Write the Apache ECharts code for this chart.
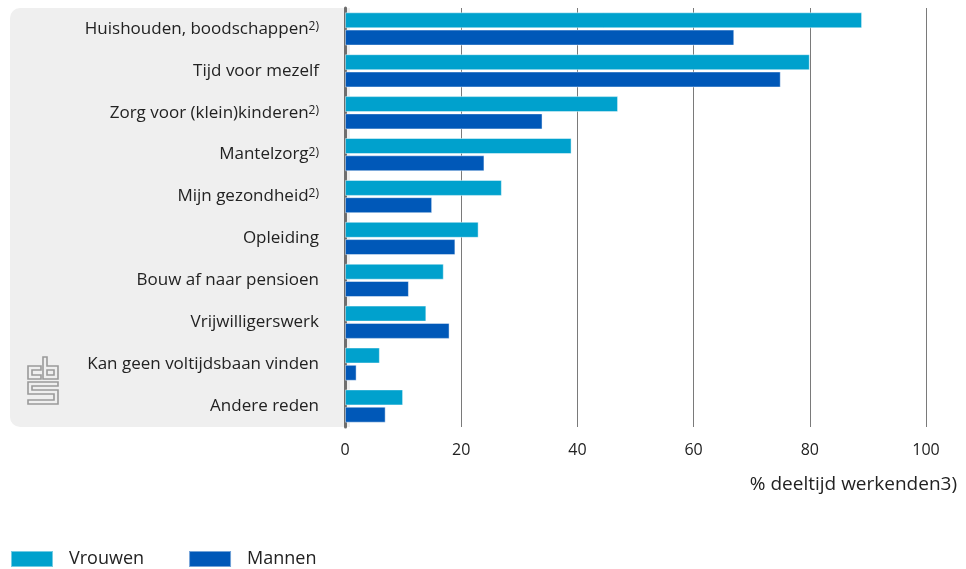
<!DOCTYPE html>
<html>
<head>
<meta charset="utf-8">
<script src="https://cdn.jsdelivr.net/npm/echarts@6/dist/echarts.min.js"></script>
<style>html,body{margin:0;padding:0;background:#fff}#c{width:966px;height:569px}</style>
</head>
<body>
<div id="c"></div>
<script>
const categories = ['Huishouden, boodschappen2)', 'Tijd voor mezelf', 'Zorg voor (klein)kinderen2)', 'Mantelzorg2)', 'Mijn gezondheid2)', 'Opleiding', 'Bouw af naar pensioen', 'Vrijwilligerswerk', 'Kan geen voltijdsbaan vinden', 'Andere reden'];
const vrouwen = [89, 80, 47, 39, 27, 23, 17, 14, 6, 10];
const mannen = [67, 75, 34, 24, 15, 19, 11, 18, 2, 7];
const xTicks = [0, 20, 40, 60, 80, 100];
const axisTitle = '% deeltijd werkenden3)';
const seriesNames = ['Vrouwen', 'Mannen'];

const FONT = 'Open Sans';
const chart = echarts.init(document.getElementById('c'), null, {renderer: 'canvas'});
const logoStyle = {fill: 'none', stroke: '#9a9a9a', lineWidth: 1.6};
chart.setOption({
  animation: false,
  textStyle: {fontFamily: FONT},
  graphic: [
    {type: 'rect', z: -10, shape: {x: 10, y: 8, width: 340, height: 419, r: [10, 0, 0, 10]}, style: {fill: '#efefef'}},
    {type: 'polygon', shape: {points: [[28,366],[41,366],[41,370],[32,370],[32,375],[41,375],[41,379],[28,379]]}, style: logoStyle},
    {type: 'polygon', shape: {points: [[43,357],[47,357],[47,366],[58,366],[58,379],[43,379]]}, style: logoStyle},
    {type: 'rect', shape: {x: 47, y: 370, width: 7, height: 5}, style: logoStyle},
    {type: 'polygon', shape: {points: [[28,382],[58,382],[58,386],[32,386],[32,390],[58,390],[58,404],[28,404],[28,400],[54,400],[54,394],[28,394]]}, style: logoStyle},
    {type: 'text', right: 9, top: 475, style: {text: axisTitle, fontFamily: FONT, fontSize: 19, fill: '#222', textAlign: 'right'}}
  ],
  legend: {
    left: 10, top: 550, padding: 0, itemWidth: 42, itemHeight: 16, itemGap: 44,
    icon: 'rect',
    textStyle: {fontSize: 18, color: '#222', padding: [0, 0, 0, 11]},
    data: seriesNames
  },
  grid: {left: 345, right: 40, top: 8, bottom: 142, containLabel: false},
  xAxis: {
    type: 'value', min: 0, max: 100, interval: 20,
    axisLine: {show: false},
    axisTick: {show: false},
    splitLine: {show: true, lineStyle: {color: '#7a7a7a', width: 1}},
    axisLabel: {fontSize: 16, color: '#222', margin: 15, formatter: v => xTicks.includes(v) ? String(v) : ''}
  },
  yAxis: {
    type: 'category', inverse: true, data: categories,
    axisLine: {show: true, lineStyle: {color: '#6e6e6e', width: 3}},
    axisTick: {show: false},
    axisLabel: {
      margin: 26,
      formatter: v => {
        const m = v.match(/^(.*?)(\d\))$/);
        return m ? '{a|' + m[1] + '}{s|' + m[2] + '}' : '{a|' + v + '}';
      },
      rich: {
        a: {fontSize: 17, color: '#222', fontFamily: FONT},
        s: {fontSize: 12, color: '#222', fontFamily: FONT, verticalAlign: 'top', padding: [0, 0, 3, 0]}
      }
    }
  },
  series: [
    {name: seriesNames[0], type: 'bar', data: vrouwen, barWidth: 16, barGap: '8%',
     itemStyle: {color: '#00a1cd', borderColor: 'rgba(255,255,255,0.45)', borderWidth: 1}},
    {name: seriesNames[1], type: 'bar', data: mannen, barWidth: 16,
     itemStyle: {color: '#0058b8', borderColor: 'rgba(255,255,255,0.45)', borderWidth: 1}}
  ]
});
</script>
</body>
</html>
